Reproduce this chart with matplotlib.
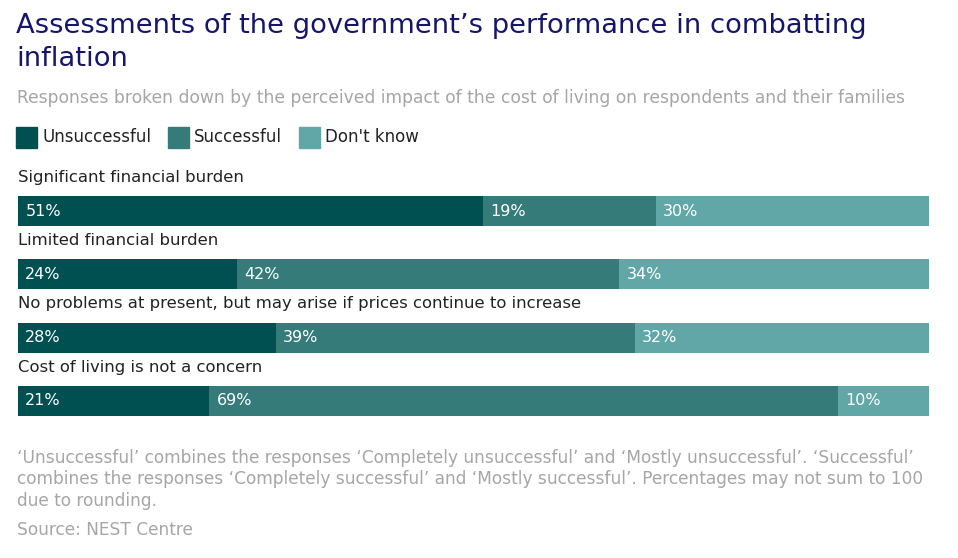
import numpy as np
import matplotlib.pyplot as plt
from matplotlib.patches import Rectangle

categories = ["Significant financial burden",
              "Limited financial burden",
              "No problems at present, but may arise if prices continue to increase",
              "Cost of living is not a concern"]
unsuccessful = [51, 24, 28, 21]
successful = [19, 42, 39, 69]
dont_know = [30, 34, 32, 10]
series_names = ["Unsuccessful", "Successful", "Don't know"]
colors = ["#004f51", "#347b7a", "#61a7a7"]

title_lines = ["Assessments of the government\u2019s performance in combatting", "inflation"]
subtitle = "Responses broken down by the perceived impact of the cost of living on respondents and their families"
note_lines = [
    "\u2018Unsuccessful\u2019 combines the responses \u2018Completely unsuccessful\u2019 and \u2018Mostly unsuccessful\u2019. \u2018Successful\u2019",
    "combines the responses \u2018Completely successful\u2019 and \u2018Mostly successful\u2019. Percentages may not sum to 100",
    "due to rounding.",
]
source = "Source: NEST Centre"

W, H = 958, 558
plt.rcParams['font.family'] = ['DejaVu Sans']
fig = plt.figure(figsize=(W / 100, H / 100), dpi=100)


def fx(px):
    return px / W


def fy(py):
    return 1 - py / H


# title block
for i, line in enumerate(title_lines):
    fig.text(fx(16), fy(26 + 33 * i), line, fontsize=19.7, color="#15166b",
             va="center", ha="left")
fig.text(fx(17), fy(98), subtitle, fontsize=12.33, color="#a6a6a6",
         va="center", ha="left")

# legend
lx = 16
for name, c in zip(series_names, colors):
    fig.patches.append(Rectangle((fx(lx), fy(148)), fx(21), 21 / H, color=c,
                                 transform=fig.transFigure))
    t = fig.text(fx(lx + 26), fy(137), name, fontsize=12, color="#222222",
                 va="center", ha="left")
    fig.canvas.draw()
    bb = t.get_window_extent()
    lx = bb.x1 + 17

# bars
ax = fig.add_axes([fx(18), fy(416), fx(929) - fx(18), (416 - 196) / H])
data = np.array([unsuccessful, successful, dont_know], dtype=float)
totals = data.sum(axis=0)
y = np.arange(len(categories))
h = 30 / 63.3
left = np.zeros(len(categories))
for vals, c in zip(data, colors):
    w = vals / totals
    ax.barh(y, w, left=left, height=h, color=c, linewidth=0)
    for yi, li, v in zip(y, left, vals):
        ax.text(li + 0.008, yi, f"{int(v)}%", color="white", fontsize=11.5,
                va="center", ha="left")
    left += w

for yi, cat in zip(y, categories):
    ax.text(0, yi - 0.535, cat, fontsize=11.85, color="#222222", va="center",
            ha="left", clip_on=False)

ax.set_xlim(0, 1)
ax.set_ylim(3 + h / 2, -h / 2)
ax.axis("off")

# footnote
for i, line in enumerate(note_lines):
    fig.text(fx(17), fy(458 + 21.5 * i), line, fontsize=12.26, color="#a6a6a6",
             va="center", ha="left")
fig.text(fx(17), fy(530), source, fontsize=12.26, color="#a6a6a6",
         va="center", ha="left")

fig.savefig("out.png", dpi=100)
